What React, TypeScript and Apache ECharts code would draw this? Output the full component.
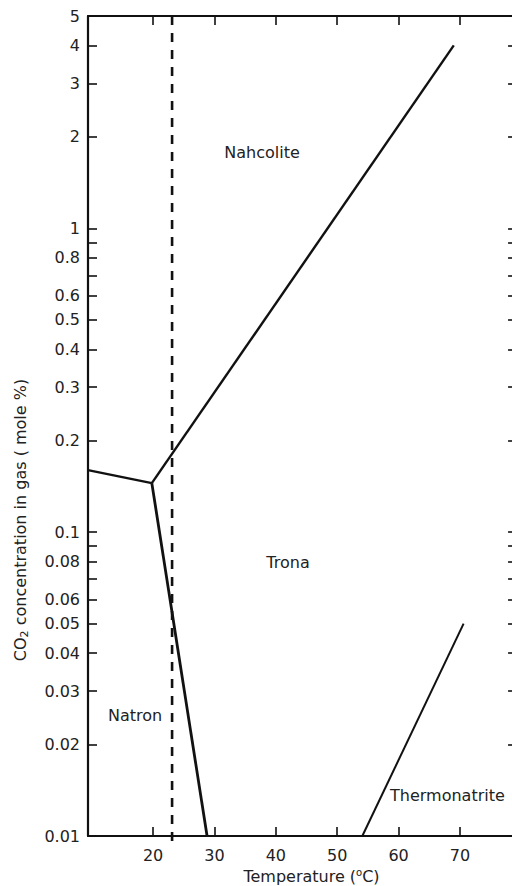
import React, { useEffect, useRef } from "react";
import * as echarts from "echarts";

// Axis ticks and labels
const temperatureTicks = [20, 30, 40, 50, 60, 70];
const co2Ticks = [5, 4, 3, 2, 1, 0.9, 0.8, 0.7, 0.6, 0.5, 0.4, 0.3, 0.2, 0.1, 0.09, 0.08, 0.07, 0.06, 0.05, 0.04, 0.03, 0.02, 0.01];
const co2Labels = [5, 4, 3, 2, 1, 0.8, 0.6, 0.5, 0.4, 0.3, 0.2, 0.1, 0.08, 0.06, 0.05, 0.04, 0.03, 0.02, 0.01];

// Phase boundaries (temperature in °C, CO2 in mole %)
const natronNahcoliteT = [9.4, 19.8];
const natronNahcoliteC = [0.16, 0.145];
const tronaNahcoliteT = [19.8, 69.0];
const tronaNahcoliteC = [0.145, 4.0];
const natronTronaT = [19.8, 28.8];
const natronTronaC = [0.145, 0.01];
const tronaThermoT = [54.1, 70.6];
const tronaThermoC = [0.01, 0.05];
// Dashed reference temperature line
const refT = [23.1, 23.1];
const refC = [5, 0.0091];

const regionNames = ["Nahcolite", "Trona", "Natron", "Thermonatrite"];

const FONT = "DejaVu Sans";
const INK = "#111";
const TEXT = "#222";

export default function App() {
  const ref = useRef<HTMLDivElement>(null);

  useEffect(() => {
    if (!ref.current) return;
    const chart = echarts.init(ref.current, null, { renderer: "svg" });

    const seg = (t: number[], c: number[], extra: any = {}) => ({
      type: "line",
      xAxisIndex: 0,
      yAxisIndex: 0,
      data: t.map((x, i) => [x, c[i]]),
      symbol: "none",
      clip: false,
      silent: true,
      lineStyle: { color: INK, width: 2.4, ...(extra.lineStyle || {}) },
    });

    const yMin = Math.log10(0.01);
    const yMax = Math.log10(5);
    const fmtLog = (v: number) => String(Number(Math.pow(10, v).toPrecision(3)));

    const axisLine = { show: true, onZero: false, lineStyle: { color: INK, width: 2.2 } };
    const tickStyle = { color: INK, width: 1.6 };

    chart.setOption({
      animation: false,
      backgroundColor: "#fff",
      textStyle: { fontFamily: FONT },
      grid: { left: 88, right: -5, top: 16, bottom: 50, outerBoundsMode: "none" },
      xAxis: [
        {
          type: "value",
          min: 9.4,
          max: 79.3,
          position: "bottom",
          axisLine,
          axisTick: { inside: true, length: 9, customValues: temperatureTicks, lineStyle: tickStyle },
          axisLabel: { customValues: temperatureTicks, fontSize: 16, color: TEXT, margin: 11, fontFamily: FONT },
          splitLine: { show: false },
          name: "Temperature ({sup|o}C)",
          nameLocation: "middle",
          nameGap: 30,
          nameTextStyle: {
            fontSize: 16,
            color: TEXT,
            fontFamily: FONT,
            padding: [0, 0, 0, 18],
            lineHeight: 18,
            rich: { sup: { fontSize: 10, lineHeight: 10, verticalAlign: "top", color: TEXT, fontFamily: FONT } },
          },
        },
        {
          type: "value",
          min: 9.4,
          max: 79.3,
          position: "top",
          axisLine,
          axisTick: { inside: true, length: 9, customValues: temperatureTicks, lineStyle: tickStyle },
          axisLabel: { show: false },
          splitLine: { show: false },
        },
      ],
      yAxis: [
        { type: "log", logBase: 10, min: 0.01, max: 5, show: false },
        {
          type: "value",
          min: yMin,
          max: yMax,
          position: "left",
          axisLine,
          axisTick: { inside: true, length: 9, customValues: co2Ticks.map(Math.log10), lineStyle: tickStyle },
          axisLabel: {
            customValues: co2Labels.map(Math.log10),
            formatter: fmtLog,
            fontSize: 16,
            color: TEXT,
            margin: 8,
            fontFamily: FONT,
          },
          splitLine: { show: false },
        },
        {
          type: "value",
          min: yMin,
          max: yMax,
          position: "right",
          axisLine,
          axisTick: { inside: true, length: 9, customValues: co2Ticks.map(Math.log10), lineStyle: tickStyle },
          axisLabel: { show: false },
          splitLine: { show: false },
        },
      ],
      graphic: [
        {
          type: "text",
          x: 20,
          y: 520,
          rotation: Math.PI / 2,
          style: {
            text: "CO{sub|2} concentration in gas ( mole %)",
            fontSize: 16,
            fontFamily: FONT,
            fill: TEXT,
            align: "center",
            verticalAlign: "middle",
            lineHeight: 20,
            rich: {
              sub: { fontSize: 11, lineHeight: 11, verticalAlign: "bottom", fill: TEXT, fontFamily: FONT },
            },
          },
        },
        { type: "text", x: 262, y: 152, style: { text: regionNames[0], fontSize: 16, fontFamily: FONT, fill: TEXT, align: "center", verticalAlign: "middle" } },
        { type: "text", x: 288, y: 562, style: { text: regionNames[1], fontSize: 16, fontFamily: FONT, fill: TEXT, align: "center", verticalAlign: "middle" } },
        { type: "text", x: 135, y: 715, style: { text: regionNames[2], fontSize: 16, fontFamily: FONT, fill: TEXT, align: "center", verticalAlign: "middle" } },
        { type: "text", x: 390, y: 795, style: { text: regionNames[3], fontSize: 16, fontFamily: FONT, fill: TEXT, align: "left", verticalAlign: "middle" } },
      ],
      series: [
        seg(natronNahcoliteT, natronNahcoliteC),
        seg(tronaNahcoliteT, tronaNahcoliteC),
        seg(natronTronaT, natronTronaC, { lineStyle: { width: 2.8 } }),
        seg(tronaThermoT, tronaThermoC, { lineStyle: { width: 2 } }),
        seg(refT, refC, { lineStyle: { width: 2.6, type: [9, 8] } }),
      ],
    });

    return () => chart.dispose();
  }, []);

  return (
    <div
      ref={ref}
      style={{ position: "absolute", left: 0, top: 0, width: 512, height: 886, background: "#fff" }}
    />
  );
}
